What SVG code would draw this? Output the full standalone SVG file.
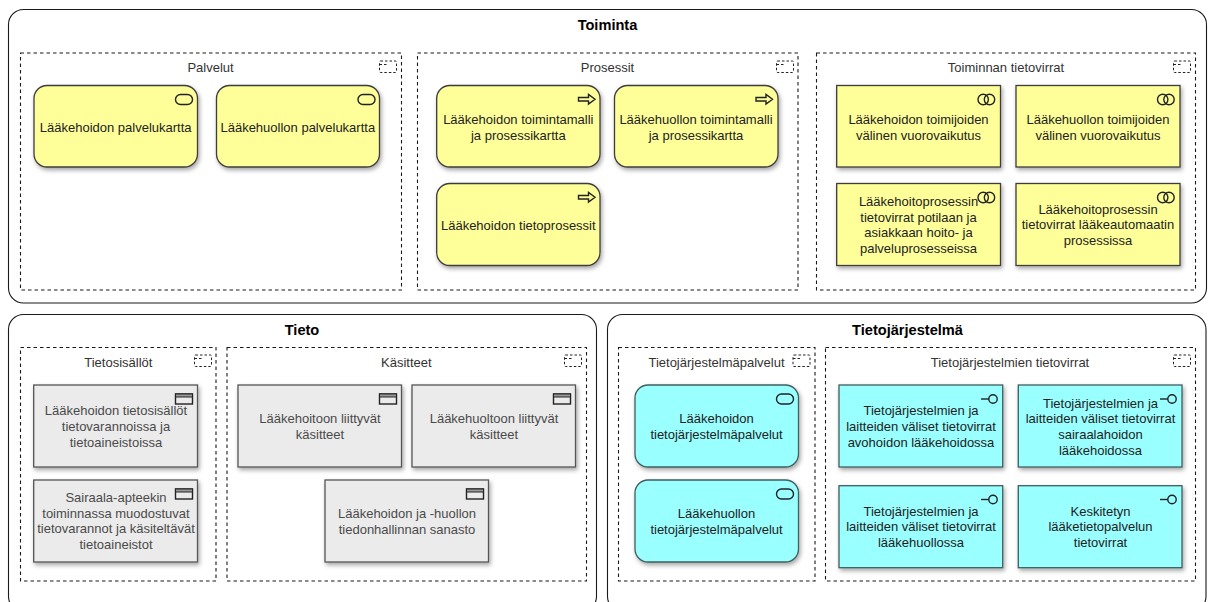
<svg xmlns="http://www.w3.org/2000/svg" width="1213" height="602" viewBox="0 0 1213 602">
<style>
text{font-family:"Liberation Sans",Arial,Helvetica,sans-serif;font-size:13px;text-anchor:middle;fill:#222}
.outer{fill:#fff;stroke:#1a1a1a;stroke-width:1.1}
.grp{fill:none;stroke:#1a1a1a;stroke-width:1.1;stroke-dasharray:3.5 3}
.title{font-weight:bold;font-size:14.6px;fill:#000}
.glab{fill:#333}
.y{fill:#ffff99;stroke:#3d3d3d;stroke-width:1.3;filter:url(#sh)}
.g{fill:#ebebeb;stroke:#555;stroke-width:1.3;filter:url(#sh)}
.c{fill:#99ffff;stroke:#3f5f5f;stroke-width:1.3;filter:url(#sh)}
.gt{fill:#4a4a4a}
.ic{fill:none;stroke:#222;stroke-width:1.4}
.id{fill:none;stroke:#222;stroke-width:1;stroke-dasharray:2.5 2}
</style>
<defs>
<filter id="sh" x="-10%" y="-10%" width="125%" height="125%"><feDropShadow dx="1.5" dy="2.5" stdDeviation="2" flood-color="#000" flood-opacity="0.35"/></filter>
<g id="i-grp"><rect class="id" x="0.500" y="0.500" width="17" height="11.500" rx="1"/><path class="id" d="M0.500 4H9"/></g>
<g id="i-svc"><rect class="ic" x="0.500" y="0.500" width="17" height="10" rx="5" ry="5"/></g>
<g id="i-proc"><path class="ic" d="M0.500 3.500H10.500V0.500L17 5.250L10.500 10V7H0.500Z"/></g>
<g id="i-int"><circle class="ic" cx="5.700" cy="5.500" r="5.200"/><circle class="ic" cx="12" cy="5.500" r="5.200"/></g>
<g id="i-obj"><rect class="ic" x="0.500" y="0.500" width="17" height="10"/><rect x="0.500" y="0.500" width="17" height="3" fill="#999" stroke="#222" stroke-width="1"/></g>
<g id="i-ifc"><path class="ic" d="M0 4.500H8"/><circle class="ic" cx="12" cy="4.500" r="4.200"/></g>
</defs>

<g id="toiminta"><rect class="outer" x="8.500" y="9.500" width="1198" height="293.500" rx="15"/><text class="title" x="607.500" y="30">Toiminta</text></g>
<g id="tieto"><rect class="outer" x="8.500" y="314.500" width="588" height="297" rx="15"/><text class="title" x="302" y="335">Tieto</text></g>
<g id="tietojarjestelma"><rect class="outer" x="607.500" y="314.500" width="598.500" height="297" rx="15"/><text class="title" x="907.500" y="335">Tietojärjestelmä</text></g>

<g id="palvelut"><rect class="grp" x="20.500" y="53" width="381" height="237"/><text class="glab" x="210.500" y="72">Palvelut</text><use href="#i-grp" x="379" y="60.500"/></g>
<g id="prosessit"><rect class="grp" x="417.500" y="53" width="380.500" height="237"/><text class="glab" x="607.500" y="72">Prosessit</text><use href="#i-grp" x="776" y="60.500"/></g>
<g id="toiminnan-tietovirrat"><rect class="grp" x="816.500" y="53" width="379" height="237"/><text class="glab" x="1006" y="72">Toiminnan tietovirrat</text><use href="#i-grp" x="1173" y="60.500"/></g>
<g id="tietosisallot"><rect class="grp" x="20.500" y="347.500" width="195.500" height="233.500"/><text class="glab" x="118.300" y="366.500">Tietosisällöt</text><use href="#i-grp" x="194" y="354.500"/></g>
<g id="kasitteet"><rect class="grp" x="227" y="347.500" width="359.500" height="233.500"/><text class="glab" x="406.300" y="366.500">Käsitteet</text><use href="#i-grp" x="564" y="354.500"/></g>
<g id="tietojarjestelmapalvelut"><rect class="grp" x="618.500" y="347.500" width="196.500" height="233.500"/><text class="glab" x="716.500" y="366.500">Tietojärjestelmäpalvelut</text><use href="#i-grp" x="792.500" y="354.500"/></g>
<g id="tietojarjestelmien-tietovirrat"><rect class="grp" x="825.500" y="347.500" width="370" height="233.500"/><text class="glab" x="1010" y="366.500">Tietojärjestelmien tietovirrat</text><use href="#i-grp" x="1173" y="354.500"/></g>

<g id="connectors"></g>

<g id="n1"><rect class="y" x="34" y="85.500" width="163.500" height="81.500" rx="13"/><use href="#i-svc" x="175" y="94"/><text x="115.700" y="131.500">Lääkehoidon palvelukartta</text></g>
<g id="n2"><rect class="y" x="216.500" y="85.500" width="163" height="81.500" rx="13"/><use href="#i-svc" x="357.500" y="94"/><text x="297.800" y="131.500">Lääkehuollon palvelukartta</text></g>
<g id="n3"><rect class="y" x="436.700" y="85.500" width="163.300" height="81.500" rx="13"/><use href="#i-proc" x="578" y="94"/><text x="518.300" y="123.500"><tspan x="518.300">Lääkehoidon toimintamalli</tspan><tspan x="518.300" dy="16">ja prosessikartta</tspan></text></g>
<g id="n4"><rect class="y" x="614.500" y="85.500" width="163.500" height="81.500" rx="13"/><use href="#i-proc" x="755.500" y="94"/><text x="696" y="123.500"><tspan x="696">Lääkehuollon toimintamalli</tspan><tspan x="696" dy="16">ja prosessikartta</tspan></text></g>
<g id="n5"><rect class="y" x="436.700" y="183.500" width="163.300" height="82" rx="13"/><use href="#i-proc" x="578" y="192"/><text x="518.300" y="229.500">Lääkehoidon tietoprosessit</text></g>
<g id="n6"><rect class="y" x="836.700" y="85.500" width="163.800" height="81.500"/><use href="#i-int" x="977.500" y="94"/><text x="918.500" y="123.500"><tspan x="918.500">Lääkehoidon toimijoiden</tspan><tspan x="918.500" dy="16">välinen vuorovaikutus</tspan></text></g>
<g id="n7"><rect class="y" x="1016" y="85.500" width="164" height="81.500"/><use href="#i-int" x="1157" y="94"/><text x="1098" y="123.500"><tspan x="1098">Lääkehuollon toimijoiden</tspan><tspan x="1098" dy="16">välinen vuorovaikutus</tspan></text></g>
<g id="n8"><rect class="y" x="836.700" y="183.500" width="163.800" height="82"/><use href="#i-int" x="977.500" y="192"/><text x="918.500" y="206"><tspan x="918.500">Lääkehoitoprosessin</tspan><tspan x="918.500" dy="15.700">tietovirrat potilaan ja</tspan><tspan x="918.500" dy="15.700">asiakkaan hoito- ja</tspan><tspan x="918.500" dy="15.700">palveluprosesseissa</tspan></text></g>
<g id="n9"><rect class="y" x="1016" y="183.500" width="164" height="82"/><use href="#i-int" x="1157" y="192"/><text x="1098" y="213.500"><tspan x="1098">Lääkehoitoprosessin</tspan><tspan x="1098" dy="15.700">tietovirrat lääkeautomaatin</tspan><tspan x="1098" dy="15.700">prosessissa</tspan></text></g>

<g id="n10"><rect class="g" x="33.700" y="385" width="163.800" height="82"/><use href="#i-obj" x="175" y="393.500"/><text class="gt" x="116" y="415"><tspan class="gt" x="116">Lääkehoidon tietosisällöt</tspan><tspan class="gt" x="116" dy="15.900">tietovarannoissa ja</tspan><tspan class="gt" x="116" dy="15.900">tietoaineistoissa</tspan></text></g>
<g id="n11"><rect class="g" x="33.700" y="480" width="163.800" height="82"/><use href="#i-obj" x="175" y="488.500"/><text class="gt" x="116" y="502"><tspan class="gt" x="116">Sairaala-apteekin</tspan><tspan class="gt" x="116" dy="15.700">toiminnassa muodostuvat</tspan><tspan class="gt" x="116" dy="15.700">tietovarannot ja käsiteltävät</tspan><tspan class="gt" x="116" dy="15.700">tietoaineistot</tspan></text></g>
<g id="n12"><rect class="g" x="238" y="385" width="163.500" height="82"/><use href="#i-obj" x="379" y="393.500"/><text class="gt" x="320" y="423"><tspan class="gt" x="320">Lääkehoitoon liittyvät</tspan><tspan class="gt" x="320" dy="16">käsitteet</tspan></text></g>
<g id="n13"><rect class="g" x="412" y="385" width="163.500" height="82"/><use href="#i-obj" x="553" y="393.500"/><text class="gt" x="494" y="423"><tspan class="gt" x="494">Lääkehuoltoon liittyvät</tspan><tspan class="gt" x="494" dy="16">käsitteet</tspan></text></g>
<g id="n14"><rect class="g" x="325" y="480" width="163.500" height="82"/><use href="#i-obj" x="466" y="488.500"/><text class="gt" x="407" y="518"><tspan class="gt" x="407">Lääkehoidon ja -huollon</tspan><tspan class="gt" x="407" dy="16">tiedonhallinnan sanasto</tspan></text></g>

<g id="n15"><rect class="c" x="635" y="385" width="163.500" height="82" rx="13"/><use href="#i-svc" x="776" y="393.500"/><text x="716.500" y="423"><tspan x="716.500">Lääkehoidon</tspan><tspan x="716.500" dy="16">tietojärjestelmäpalvelut</tspan></text></g>
<g id="n16"><rect class="c" x="635" y="480" width="163.500" height="82" rx="13"/><use href="#i-svc" x="776" y="488.500"/><text x="716.500" y="518"><tspan x="716.500">Lääkehuollon</tspan><tspan x="716.500" dy="16">tietojärjestelmäpalvelut</tspan></text></g>
<g id="n17"><rect class="c" x="839" y="385" width="163.700" height="82"/><use href="#i-ifc" x="981" y="394.500"/><text x="921" y="414.700"><tspan x="921">Tietojärjestelmien ja</tspan><tspan x="921" dy="16">laitteiden väliset tietovirrat</tspan><tspan x="921" dy="16">avohoidon lääkehoidossa</tspan></text></g>
<g id="n18"><rect class="c" x="1018.300" y="385" width="163.700" height="82"/><use href="#i-ifc" x="1160" y="394.500"/><text x="1100.500" y="407.500"><tspan x="1100.500">Tietojärjestelmien ja</tspan><tspan x="1100.500" dy="15.800">laitteiden väliset tietovirrat</tspan><tspan x="1100.500" dy="15.800">sairaalahoidon</tspan><tspan x="1100.500" dy="15.800">lääkehoidossa</tspan></text></g>
<g id="n19"><rect class="c" x="839" y="485.700" width="163.700" height="82"/><use href="#i-ifc" x="981" y="495"/><text x="921" y="515.500"><tspan x="921">Tietojärjestelmien ja</tspan><tspan x="921" dy="15.700">laitteiden väliset tietovirrat</tspan><tspan x="921" dy="15.700">lääkehuollossa</tspan></text></g>
<g id="n20"><rect class="c" x="1018.300" y="485.700" width="163.700" height="82"/><use href="#i-ifc" x="1160" y="495"/><text x="1100.500" y="515.500"><tspan x="1100.500">Keskitetyn</tspan><tspan x="1100.500" dy="15.700">lääketietopalvelun</tspan><tspan x="1100.500" dy="15.700">tietovirrat</tspan></text></g>
</svg>
